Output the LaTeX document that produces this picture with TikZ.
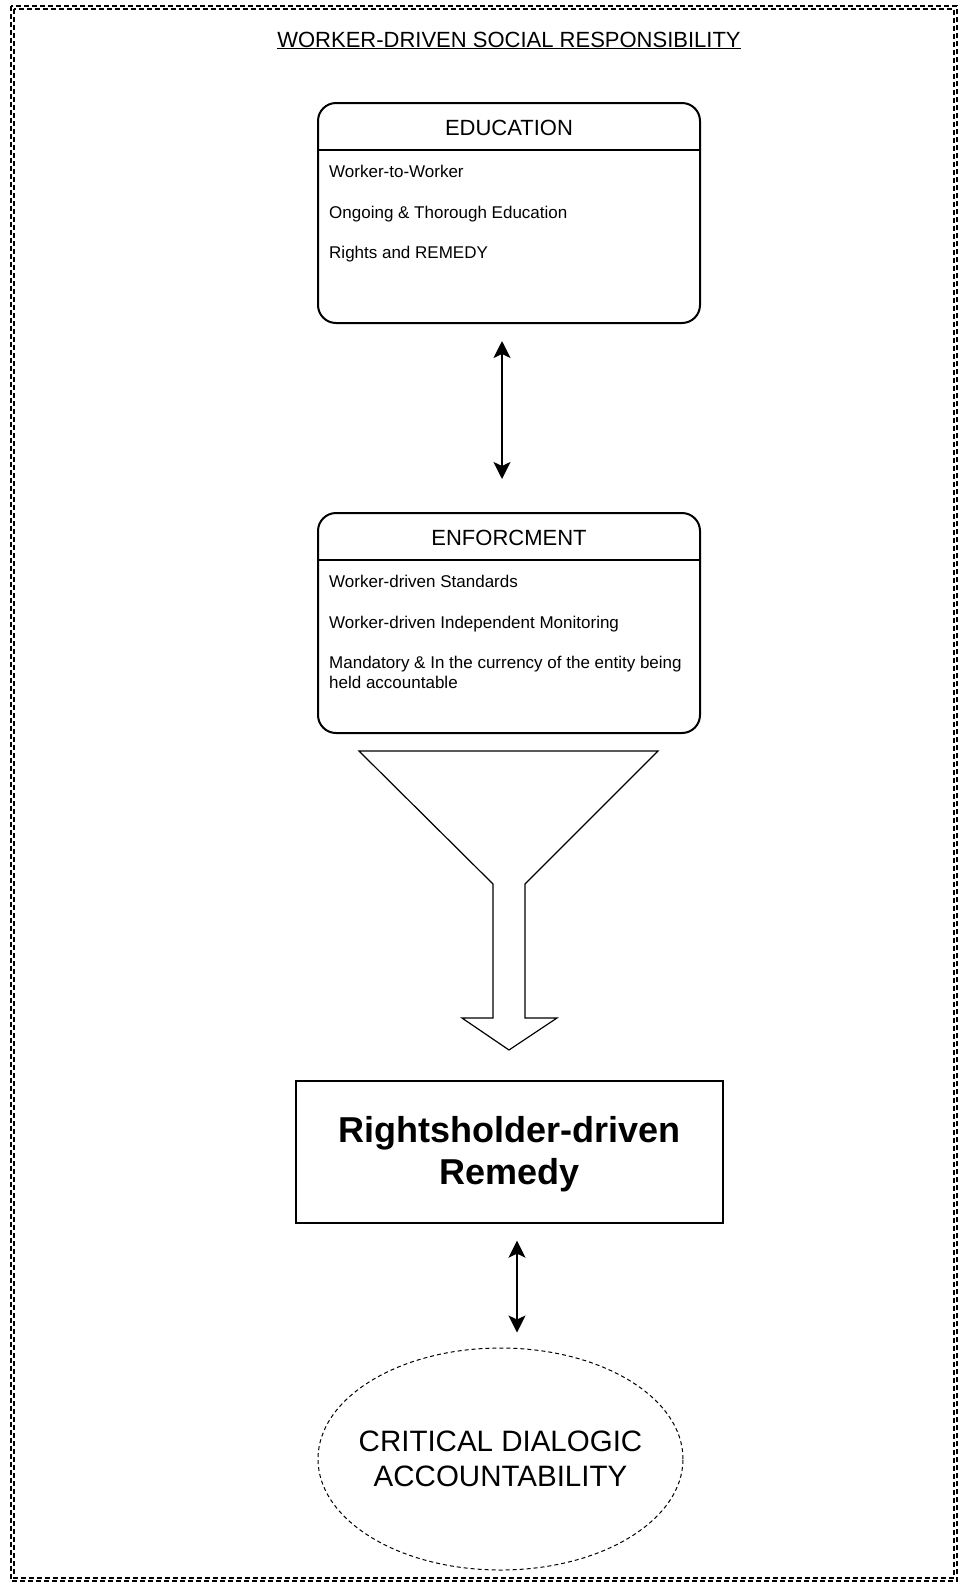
\documentclass[tikz,border=0pt]{standalone}
\usepackage{fontspec}
\setmainfont{Liberation Sans}
\usetikzlibrary{arrows.meta,shapes.geometric,calc}
\tikzset{
  framedash/.style={line width=1.1pt, dash pattern=on 5pt off 3pt},
  listbox/.style={draw, line width=2pt, rounded corners=18pt, minimum width=382pt, minimum height=220pt, inner sep=0pt},
  headtext/.style={anchor=base, font=\fontsize{22}{26}\selectfont},
  itemtext/.style={anchor=base west, align=left, inner sep=0pt, font=\fontsize{17}{20.5}\selectfont},
  biarrow/.style={line width=2pt, {Stealth[length=17pt,width=17pt,inset=4pt]}-{Stealth[length=17pt,width=17pt,inset=4pt]}},
  remedybox/.style={draw, line width=1.3pt, minimum width=427pt, minimum height=142pt, align=center, font=\fontsize{36}{42}\selectfont\bfseries},
  dialog/.style={draw, ellipse, dashed, line width=1pt, dash pattern=on 4pt off 3pt, minimum width=365pt, minimum height=222pt, inner sep=0pt},
  dialogtext/.style={align=center, font=\fontsize{29.5}{35}\selectfont},
  funnel/.style={draw, line width=1.2pt, line join=miter}
}
\begin{document}
\begin{tikzpicture}[x=1pt,y=-1pt]
\useasboundingbox (0,0) rectangle (960,1583);
% frame (double dashed)
\draw[framedash] (11,6) rectangle (957,1581);
\draw[framedash] (14,9) rectangle (954,1578);
% title
\node[anchor=base, inner sep=0pt, font=\fontsize{22}{26}\selectfont] (title) at (509,47) {\underline{WORKER-DRIVEN SOCIAL RESPONSIBILITY}};
% education box
\node[listbox] (edu) at (509,213) {};
\draw[line width=2pt] ([yshift=-48pt]edu.north west) -- ([yshift=-48pt]edu.north east);
\node[headtext] (eduh) at (509,135) {EDUCATION};
\node[itemtext] (edu1) at (329,177) {Worker-to-Worker};
\node[itemtext] (edu2) at (329,218) {Ongoing \& Thorough Education};
\node[itemtext] (edu3) at (329,258) {Rights and REMEDY};
% enforcement box
\node[listbox] (enf) at (509,623) {};
\draw[line width=2pt] ([yshift=-48pt]enf.north west) -- ([yshift=-48pt]enf.north east);
\node[headtext] (enfh) at (509,545) {ENFORCMENT};
\node[itemtext] (enf1) at (329,587) {Worker-driven Standards};
\node[itemtext] (enf2) at (329,628) {Worker-driven Independent Monitoring};
\node[itemtext, anchor=north west] (enf3) at (329,655.5) {Mandatory \& In the currency of the entity being\\held accountable};
% arrow education <-> enforcement
\draw[biarrow] ([xshift=-7pt,yshift=-17pt]edu.south) -- ([xshift=-7pt,yshift=33pt]enf.north);
% funnel arrow
\coordinate (ftop) at ([yshift=-17pt]enf.south);
\draw[funnel] ($(ftop)+(-150,0)$) -- ($(ftop)+(149,0)$) -- ($(ftop)+(16,133)$) -- ($(ftop)+(16,267)$)
  -- ($(ftop)+(48,267)$) -- ($(ftop)+(0,299)$) -- ($(ftop)+(-47,267)$) -- ($(ftop)+(-16,267)$)
  -- ($(ftop)+(-16,133)$) -- cycle;
% remedy box
\node[remedybox] (rem) at (509.5,1152) {};
\node[align=center, font=\fontsize{36}{42}\selectfont\bfseries] (remt) at ([yshift=-2pt]rem.center) {Rightsholder-driven\\Remedy};
% ellipse
\node[dialog] (cda) at (500.5,1459) {};
\node[dialogtext] (cdat) at (cda.center) {CRITICAL DIALOGIC\\ACCOUNTABILITY};
% arrow remedy <-> dialog
\draw[biarrow] ([xshift=7.5pt,yshift=-17pt]rem.south) -- ([xshift=16.5pt,yshift=15pt]cda.north);
\end{tikzpicture}
\end{document}
